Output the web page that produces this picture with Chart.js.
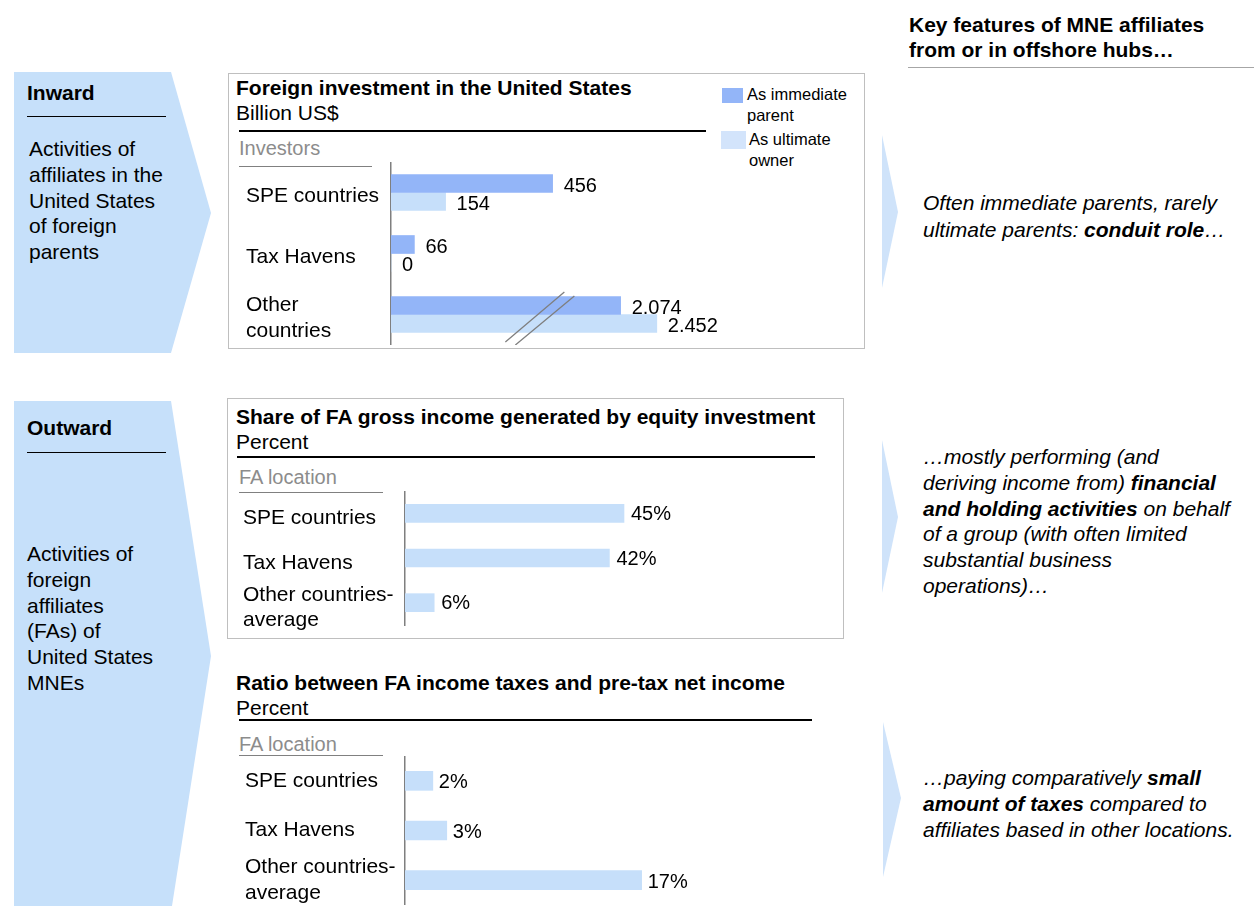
<!DOCTYPE html>
<html>
<head>
<meta charset="utf-8">
<title>MNE affiliates in offshore hubs</title>
<script src="https://cdn.jsdelivr.net/npm/chart.js@4.4.1/dist/chart.umd.min.js"></script>
<style>
  body { margin: 0; width: 1254px; height: 906px; position: relative; overflow: hidden; background: #fff;
         font-family: "Liberation Sans", Arial, sans-serif; color: #000; }
  .t { position: absolute; white-space: nowrap; font-size: 21px; line-height: 26px; }
  .b { font-weight: bold; }
  .i { font-style: italic; }
  .g { color: #8c8c8c; font-size: 20px; line-height: 24px; }
  .rule { position: absolute; height: 0; border-top: 2px solid #000; }
  .grule { position: absolute; height: 0; border-top: 1.5px solid #808080; }
  .box { position: absolute; border: 1.5px solid #bfbfbf; box-sizing: border-box; }
  .sw { position: absolute; }
  canvas { position: absolute; }
  svg { position: absolute; left: 0; top: 0; }
</style>
</head>
<body>

<svg width="1254" height="906">
  <polygon points="14,72 171,72 211,213 171,353 14,353" fill="#c6e0fa"/>
  <polygon points="14,401 171,401 211,656 172,906 14,906" fill="#c6e0fa"/>
  <polygon points="882,135 898,212 882,288" fill="#cfe3fa"/>
  <polygon points="882,440 898,517 882,593" fill="#cfe3fa"/>
  <polygon points="883,722 901,798 883,877" fill="#cfe3fa"/>
</svg>

<!-- left side -->
<div class="t b" style="left:27px;top:80px">Inward</div>
<div class="rule" style="left:27px;top:116px;width:139px;border-top-width:1.5px"></div>
<div class="t" style="left:29px;top:136px;line-height:25.8px">Activities of<br>affiliates in the<br>United States<br>of foreign<br>parents</div>

<div class="t b" style="left:27px;top:415px">Outward</div>
<div class="rule" style="left:27px;top:452px;width:139px;border-top-width:1.5px"></div>
<div class="t" style="left:27px;top:541px;line-height:25.8px">Activities of<br>foreign<br>affiliates<br>(FAs) of<br>United States<br>MNEs</div>

<!-- chart 1 -->
<div class="box" style="left:228px;top:73px;width:637px;height:276px"></div>
<div class="t b" style="left:236px;top:75px">Foreign investment in the United States</div>
<div class="t" style="left:236px;top:100px">Billion US$</div>
<div class="rule" style="left:239px;top:130px;width:467px"></div>
<div class="t g" style="left:239px;top:136px">Investors</div>
<div class="grule" style="left:239px;top:166px;width:133px"></div>
<div class="sw" style="left:722px;top:88px;width:21px;height:15px;background:#93b5f8"></div>
<div class="t" style="left:747px;top:84px;font-size:16.5px;line-height:21px">As immediate<br>parent</div>
<div class="sw" style="left:721px;top:131px;width:25px;height:18px;background:#d3e4fb"></div>
<div class="t" style="left:749px;top:129px;font-size:16.5px;line-height:21px">As ultimate<br>owner</div>
<canvas id="investChart" width="554" height="183" style="left:246px;top:162px"></canvas>

<!-- chart 2 -->
<div class="box" style="left:227px;top:398px;width:617px;height:241px"></div>
<div class="t b" style="left:236px;top:404px">Share of FA gross income generated by equity investment</div>
<div class="t" style="left:236px;top:429px">Percent</div>
<div class="rule" style="left:237px;top:456px;width:578px"></div>
<div class="t g" style="left:239px;top:465px">FA location</div>
<div class="grule" style="left:239px;top:492px;width:144px"></div>
<canvas id="equityChart" width="534" height="146" style="left:243px;top:491px"></canvas>

<!-- chart 3 -->
<div class="t b" style="left:236px;top:670px">Ratio between FA income taxes and pre-tax net income</div>
<div class="t" style="left:236px;top:695px">Percent</div>
<div class="rule" style="left:239px;top:719px;width:573px"></div>
<div class="t g" style="left:239px;top:732px">FA location</div>
<div class="grule" style="left:239px;top:755px;width:144px"></div>
<canvas id="taxChart" width="578" height="149" style="left:245px;top:756px"></canvas>

<!-- right column -->
<div class="t b" style="left:909px;top:12px;line-height:25px">Key features of MNE affiliates<br>from or in offshore hubs…</div>
<div class="grule" style="left:908px;top:67px;width:346px;border-top-color:#a6a6a6"></div>
<div class="t i" style="left:923px;top:189px;line-height:27px">Often immediate parents, rarely<br>ultimate parents: <b>conduit role</b>…</div>
<div class="t i" style="left:923px;top:444px;line-height:25.8px">…mostly performing (and<br>deriving income from) <b>financial</b><br><b>and holding activities</b> on behalf<br>of a group (with often limited<br>substantial business<br>operations)…</div>
<div class="t i" style="left:923px;top:765px;line-height:26px">…paying comparatively <b>small</b><br><b>amount of taxes</b> compared to<br>affiliates based in other locations.</div>

<script>
// Foreign investment in the United States, billion US$
const investorGroups = ['SPE countries', 'Tax Havens', ['Other', 'countries']];
const asImmediateParent = [456, 66, 2074];
const asUltimateOwner = [154, 0, 2452];

// Share of FA gross income generated by equity investment, percent
const faLocations = ['SPE countries', 'Tax Havens', ['Other countries-', 'average']];
const equityIncomeShare = [45, 42, 6];

// Ratio between FA income taxes and pre-tax net income, percent
const taxToIncomeRatio = [2, 3, 17];

// broken value axis of the first chart
const breakAt = 420, resumeAt = 1230, afterBreak = 0.27;
function broken(v) {
    return v <= resumeAt ? v : breakAt + (v - resumeAt) * afterBreak;
}

const fontFamily = '"Liberation Sans", Arial, sans-serif';
const lightBlue = '#c6dffa';

function thousands(n) {
    return String(n).replace(/\B(?=(\d{3})+(?!\d))/g, '.');
}

const valueLabels = {
    id: 'valueLabels',
    afterDatasetsDraw(chart, args, opts) {
        const ctx = chart.ctx;
        ctx.save();
        ctx.font = '20px ' + fontFamily;
        ctx.fillStyle = '#000';
        ctx.textBaseline = 'middle';
        ctx.textAlign = 'left';
        chart.data.datasets.forEach(function(ds, i) {
            chart.getDatasetMeta(i).data.forEach(function(bar, j) {
                ctx.fillText(opts.format(ds.values[j]), bar.x + opts.dx, bar.y + opts.dy);
            });
        });
        ctx.restore();
    }
};

const breakMarks = {
    id: 'breakMarks',
    afterDatasetsDraw(chart) {
        const ctx = chart.ctx;
        const x = chart.scales.x.getPixelForValue(breakAt);
        const y = chart.scales.y.getPixelForValue(2);
        ctx.save();
        ctx.strokeStyle = '#7f7f7f';
        ctx.lineWidth = 1.3;
        ctx.beginPath();
        ctx.moveTo(x + 24.5, y - 22.5); ctx.lineTo(x - 34.5, y + 27.5);
        ctx.moveTo(x + 34.5, y - 18.5); ctx.lineTo(x - 24.5, y + 30.5);
        ctx.stroke();
        ctx.restore();
    }
};

function barOptions(yWidth, xMax, padRight, padBottom, labelOffset, labels) {
    return {
        indexAxis: 'y',
        responsive: false,
        animation: false,
        layout: { padding: { left: 0, right: padRight, top: 0, bottom: padBottom } },
        plugins: {
            legend: { display: false },
            tooltip: { enabled: false },
            valueLabels: labels
        },
        scales: {
            x: { display: false, min: 0, max: xMax },
            y: {
                grid: { display: false, drawTicks: false },
                border: { display: true, color: '#7f7f7f', width: 1.5 },
                ticks: {
                    color: '#000',
                    crossAlign: 'far',
                    autoSkip: false,
                    labelOffset: labelOffset,
                    font: { family: fontFamily, size: 21, lineHeight: 1.22 }
                },
                afterFit: function(scale) {
                    scale.width = yWidth;
                    scale.paddingTop = 0;
                    scale.paddingBottom = 0;
                }
            }
        }
    };
}

new Chart(document.getElementById('investChart'), {
    type: 'bar',
    data: {
        labels: investorGroups,
        datasets: [{
            label: 'As immediate parent',
            data: asImmediateParent.map(broken),
            values: asImmediateParent,
            backgroundColor: '#93b5f8',
            barThickness: 18
        }, {
            label: 'As ultimate owner',
            data: asUltimateOwner.map(broken),
            values: asUltimateOwner,
            backgroundColor: lightBlue,
            barThickness: 18
        }]
    },
    options: barOptions(145, 900, 90, 0, 4, { format: thousands, dx: 11, dy: 3 }),
    plugins: [valueLabels, breakMarks]
});

new Chart(document.getElementById('equityChart'), {
    type: 'bar',
    data: {
        labels: faLocations,
        datasets: [{
            data: equityIncomeShare,
            values: equityIncomeShare,
            backgroundColor: lightBlue,
            barThickness: 18
        }]
    },
    options: barOptions(162, 60, 80, 12, 5, { format: v => v + '%', dx: 7, dy: 1 }),
    plugins: [valueLabels]
});

new Chart(document.getElementById('taxChart'), {
    type: 'bar',
    data: {
        labels: faLocations,
        datasets: [{
            data: taxToIncomeRatio,
            values: taxToIncomeRatio,
            backgroundColor: lightBlue,
            barThickness: 19
        }]
    },
    options: barOptions(160, 25, 70, 0, 0, { format: v => v + '%', dx: 6, dy: 2 }),
    plugins: [valueLabels]
});
</script>
</body>
</html>
